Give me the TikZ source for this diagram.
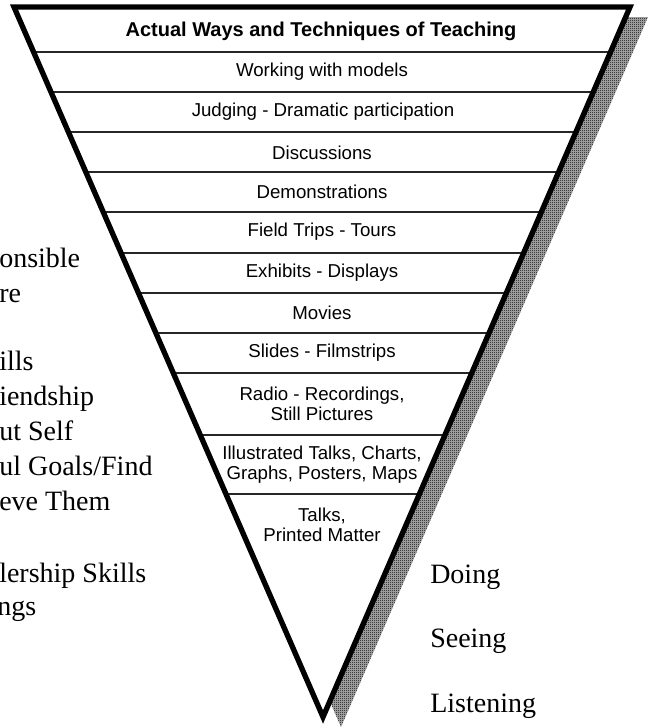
\documentclass[tikz,border=0pt]{standalone}
\usepackage{fontspec}
\setmainfont{Liberation Serif}
\setsansfont{Liberation Sans}
\usetikzlibrary{calc, patterns.meta}

% fine checkerboard for the shadow
\pgfdeclarepattern{
    name=halftone, type=uncolored,
    bottom left={\pgfpoint{0pt}{0pt}}, top right={\pgfpoint{1.5pt}{1.5pt}},
    tile size={\pgfpoint{1.5pt}{1.5pt}},
    code={
        \pgfpathrectangle{\pgfpointorigin}{\pgfpoint{0.75pt}{0.75pt}}
        \pgfpathrectangle{\pgfpoint{0.75pt}{0.75pt}}{\pgfpoint{0.75pt}{0.75pt}}
        \pgfusepath{fill}
    }
}

\tikzset{
    rowline/.style={black!85, line width=0.8pt},
    rowtext/.style={font=\sffamily\fontsize{14}{15}\selectfont, align=center, inner sep=0pt},
    headtext/.style={rowtext, font=\sffamily\bfseries\fontsize{15}{16}\selectfont},
    sidetext/.style={font=\rmfamily\fontsize{21}{25}\selectfont, anchor=base west, inner sep=0pt},
}

\begin{document}
\begin{tikzpicture}[x=0.75pt, y=-0.75pt]
\useasboundingbox (0,0) rectangle (657,728);

% ════════════════════════════════════════════════
%  Funnel outline and shadow
% ════════════════════════════════════════════════
\coordinate (tl) at (14,7);
\coordinate (tr) at (630,7);
\coordinate (tip) at (323,717);

% shadow: the funnel shifted down-right
\fill[black!30, postaction={pattern={halftone}, pattern color=black}]
    ([shift={(18,10)}]tl) -- ([shift={(18,10)}]tr)
    -- ([shift={(18,10)}]tip) -- cycle;
\fill[white] (tl) -- (tr) -- (tip) -- cycle;

% row separators
\foreach \y in {52,92,132,172,212,253,293,333,373,435,494}{
    \draw[rowline] ($(tl)!{(\y-7)/710}!(tip)$) -- ($(tr)!{(\y-7)/710}!(tip)$);
}

\draw[line width=4pt, line join=miter] (tl) -- (tr) -- (tip) -- cycle;

% ════════════════════════════════════════════════
%  Rows inside the funnel
% ════════════════════════════════════════════════
\node[headtext] (head) at (321,31) {Actual Ways and Techniques of Teaching};
\node[rowtext] (models) at (322,72) {Working with models};
\node[rowtext] (judging) at (323,112) {Judging - Dramatic participation};
\node[rowtext] (discuss) at (322,153) {Discussions};
\node[rowtext] (demos) at (322,192) {Demonstrations};
\node[rowtext] (trips) at (322,232) {Field Trips - Tours};
\node[rowtext] (exhibits) at (322,273) {Exhibits - Displays};
\node[rowtext] (movies) at (322,313) {Movies};
\node[rowtext] (slides) at (322,353) {Slides - Filmstrips};
\node[rowtext] (radio) at (322,404) {Radio - Recordings,\\Still Pictures};
\node[rowtext] (charts) at (322,465) {Illustrated Talks, Charts,\\Graphs, Posters, Maps};
\node[rowtext] (talks) at (322,525) {Talks,\\Printed Matter};

% ════════════════════════════════════════════════
%  Side labels
% ════════════════════════════════════════════════
\node[sidetext] (doing) at (430,583) {Doing};
\node[sidetext] (seeing) at (430,647) {Seeing};
\node[sidetext] (listening) at (430,712) {Listening};

% left column, cut by the page edge
\node[sidetext] (resp) at (-1,267) {onsible};
\node[sidetext] (care) at (-1,302) {re};
\node[sidetext] (skills) at (-1,370) {ills};
\node[sidetext] (friend) at (-1,405) {iendship};
\node[sidetext] (self) at (-1,440) {ut Self};
\node[sidetext] (goals) at (-1,475) {ul Goals/Find};
\node[sidetext] (them) at (-1,510) {eve Them};
\node[sidetext] (lead) at (-1,582) {lership Skills};
\node[sidetext] (feel) at (-3,615) {ngs};

\end{tikzpicture}
\end{document}
